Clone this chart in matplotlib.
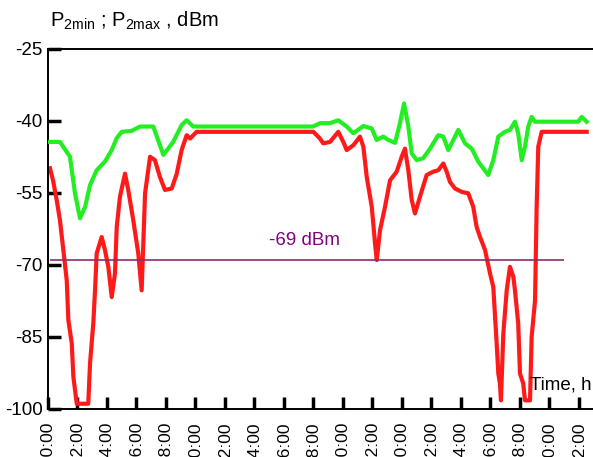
"""Received power P2min / P2max over a 36 h observation window."""

import matplotlib
matplotlib.use("Agg")
import matplotlib.pyplot as plt

# hours since 00:00 on the first day, values in dBm
max_hours = [0.14, 0.81, 1.49, 1.83, 2.17, 2.51, 2.85, 3.30, 3.86, 4.32, 4.66, 5.00,
             5.67, 6.24, 7.14, 7.82, 8.49, 9.06, 9.40, 9.85, 17.97, 18.44, 19.12,
             19.68, 20.25, 20.70, 21.38, 21.95, 22.28, 22.73, 23.07, 23.53, 23.86,
             24.14, 24.43, 24.66, 25.00, 25.44, 25.90, 26.12, 26.46, 26.80, 27.14,
             27.82, 28.27, 28.73, 29.17, 29.85, 30.19, 30.53, 30.98, 31.32, 31.66,
             31.88, 32.12, 32.34, 32.56, 32.79, 33.02, 35.95, 36.18, 36.52]
p2max = [-44.4, -44.4, -47.5, -55.1, -60.3, -58.0, -53.4, -50.3, -48.5, -46.1, -43.6, -42.3,
         -42.1, -41.2, -41.2, -47.1, -44.4, -40.9, -39.9, -41.2, -41.2, -40.5, -40.5,
         -39.9, -41.2, -42.6, -41.1, -41.6, -44.0, -43.3, -44.0, -44.6, -40.5,
         -36.4, -41.2, -46.8, -48.2, -47.8, -45.8, -44.7, -43.0, -43.3, -46.1,
         -41.9, -44.7, -45.8, -48.5, -51.3, -48.2, -43.3, -42.3, -41.9, -40.2,
         -42.6, -48.2, -45.4, -41.2, -39.2, -40.2, -40.2, -39.2, -40.2]

min_hours = [0.14, 0.36, 0.59, 0.81, 1.04, 1.27, 1.38, 1.61, 1.72, 1.95, 2.73, 2.85,
             3.07, 3.19, 3.30, 3.64, 3.86, 4.09, 4.32, 4.54, 4.66, 4.88, 5.22, 5.44,
             5.78, 6.12, 6.35, 6.58, 6.92, 7.25, 7.59, 7.93, 8.39, 8.73, 9.06, 9.40,
             9.63, 10.08, 17.99, 18.44, 18.66, 19.12, 19.68, 20.02, 20.25, 20.70,
             21.15, 21.38, 21.61, 21.95, 22.17, 22.29, 22.51, 22.85, 23.19, 23.64,
             23.98, 24.20, 24.43, 24.66, 24.88, 25.22, 25.67, 26.12, 26.46, 26.80,
             27.03, 27.25, 27.59, 28.05, 28.49, 28.83, 29.06, 29.29, 29.63, 29.97,
             30.19, 30.31, 30.42, 30.53, 30.64, 30.71, 30.87, 31.10, 31.32, 31.55,
             31.66, 31.88, 32.00, 32.22, 32.34, 32.68, 32.79, 33.02, 33.13, 33.24,
             33.47, 36.52]
p2min = [-49.9, -52.7, -56.5, -60.7, -66.9, -73.2, -81.5, -86.3, -93.3, -98.9, -98.9, -90.5,
         -82.2, -75.3, -67.6, -64.2, -66.9, -70.4, -76.7, -71.8, -62.1, -55.8, -51.0, -54.4,
         -60.7, -67.6, -75.3, -55.1, -47.5, -48.2, -51.7, -54.4, -54.1, -51.0, -46.1, -43.0,
         -43.7, -42.3, -42.3, -43.7, -44.7, -44.4, -42.3, -44.4, -46.1, -45.1,
         -43.3, -45.4, -51.7, -57.9, -65.5, -69.0, -62.8, -57.9, -52.4, -50.6,
         -47.5, -45.8, -50.3, -56.5, -59.3, -55.8, -51.3, -50.6, -50.3, -48.9,
         -50.6, -52.7, -54.1, -54.8, -55.1, -57.9, -62.1, -64.2, -66.9, -71.8,
         -74.6, -80.8, -86.4, -92.6, -94.7, -98.2, -84.3, -75.3, -70.4, -72.5,
         -75.3, -82.2, -92.6, -94.7, -98.2, -98.2, -85.0, -77.4, -57.9, -45.4,
         -42.3, -42.3]

threshold = -69
threshold_label = "-69 dBm"
tick_hours = list(range(0, 37, 2))
tick_labels = [f"{h % 24:02d}:00" for h in tick_hours]
y_ticks = [-25, -40, -55, -70, -85, -100]

plt.rcParams["font.family"] = ["Liberation Sans", "DejaVu Sans"]

fig = plt.figure(figsize=(5.93, 4.57), dpi=100)
ax = fig.add_axes([48 / 593, 48 / 457, 545 / 593, 360.3 / 457])

ax.plot(min_hours, p2min, color="#ff1a1a", lw=3.0, solid_joinstyle="round", zorder=2)
ax.plot(max_hours, p2max, color="#22ee22", lw=3.0, solid_joinstyle="round", zorder=3)
ax.hlines(threshold, 0.14, 35.0, color="#8c2d6a", lw=1.2, zorder=4)
ax.text(17.36, -65.0, threshold_label, color="#800080", fontsize=13.5,
        ha="center", va="center")

ax.set_xlim(0, 36.95)
ax.set_ylim(-100, -25)
ax.set_xticks(tick_hours)
ax.set_xticklabels(tick_labels, rotation=90, fontsize=12.5, va="top")
ax.set_yticks(y_ticks)
ax.set_yticklabels([str(v) for v in y_ticks], fontsize=13.5)
ax.tick_params(axis="both", direction="in", length=9, width=2.5, color="black")
ax.tick_params(axis="x", pad=9)
ax.tick_params(axis="y", pad=4)

ax.spines["right"].set_visible(False)
for side in ("top", "left", "bottom"):
    ax.spines[side].set_linewidth(1.4)

fig.text(50 / 593, 1 - 21 / 457, r"P$_{\mathregular{2min}}$ ; P$_{\mathregular{2max}}$ , dBm",
         fontsize=14.5, ha="left", va="center")
fig.text(530 / 593, 1 - 385 / 457, "Time, h", fontsize=13.5, ha="left", va="center")

fig.savefig("out.png", dpi=100)
plt.close(fig)
